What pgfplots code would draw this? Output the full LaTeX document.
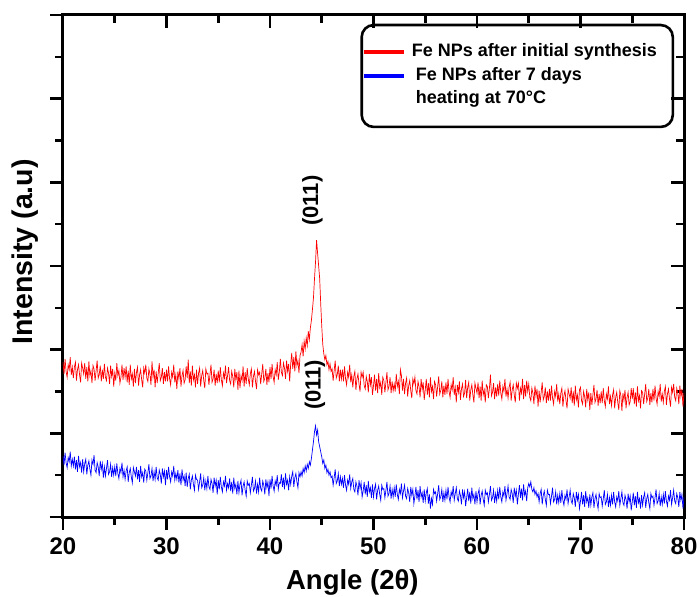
\documentclass[border=0pt]{standalone}
\usepackage{fontspec}
\setmainfont{Liberation Sans}
\usepackage{pgfplots}
\pgfplotsset{compat=1.18}

\begin{document}
\begin{tikzpicture}
% box with the top and right ticks pointing in
\begin{axis}[
    at={(0,0)}, anchor=south west,
    scale only axis, width=621pt, height=502pt,
    xmin=20, xmax=80, ymin=0, ymax=6,
    xtick={20,30,...,80}, ytick={0,1,...,6},
    minor x tick num=1, minor y tick num=1,
    xticklabels={}, yticklabels={},
    xtick pos=right, ytick pos=right,
    tick align=inside,
    major tick length=13pt, minor tick length=8pt,
    tick style={black, line width=2.6pt},
    axis line style={line width=3pt},
]
\end{axis}
\begin{axis}[
    at={(0,0)}, anchor=south west,
    scale only axis, width=621pt, height=502pt,
    xmin=20, xmax=80, ymin=0, ymax=6,
    xtick={20,30,...,80}, ytick={0,1,...,6},
    minor x tick num=1, minor y tick num=1,
    yticklabels={},
    xtick pos=left, ytick pos=left,
    tick align=outside,
    major tick length=13pt, minor tick length=8pt,
    tick style={black, line width=2.6pt},
    axis line style={line width=3pt},
    /pgf/number format/assume math mode=true,
    xticklabel style={font=\fontsize{24}{24}\selectfont\bfseries, yshift=-4pt},
    xlabel={Angle (2θ)},
    ylabel={Intensity (a.u)},
    xlabel style={font=\fontsize{27.5}{27.5}\selectfont\bfseries, at={(axis description cs:0.466,-0.131)}, anchor=center},
    ylabel style={font=\fontsize{28.5}{28.5}\selectfont\bfseries, at={(axis description cs:-0.061,0.528)}, anchor=center},
    legend style={at={(0.481,0.943)}, anchor=north west, draw=none, fill=none, inner sep=0pt,
        font=\fontsize{18}{18}\selectfont\bfseries,
        nodes={inner sep=0pt, text height=13pt, text depth=4pt},
        cells={anchor=west}, row sep=6.5pt, column sep=6pt},
    legend image code/.code={\draw[#1, line width=4pt] (0pt,0pt) -- (40pt,0pt);},
]
\draw[line width=2.6pt, rounded corners=12pt] (rel axis cs:0.481,0.980) rectangle (rel axis cs:0.982,0.777);

% Fe NPs after initial synthesis
\addplot[red, line width=0.7pt] coordinates {
(20.0,1.85)(20.1,1.71)(20.2,1.89)(20.3,1.74)(20.4,1.67)(20.5,1.82)(20.6,1.76)(20.7,1.91)(20.8,1.70)(20.9,1.79)
(21.0,1.66)(21.1,1.79)(21.2,1.85)(21.3,1.63)(21.4,1.76)(21.5,1.82)(21.6,1.70)(21.7,1.61)(21.8,1.84)(21.9,1.78)
(22.0,1.71)(22.1,1.84)(22.2,1.65)(22.3,1.79)(22.4,1.62)(22.5,1.86)(22.6,1.69)(22.7,1.75)(22.8,1.60)(22.9,1.81)
(23.0,1.77)(23.1,1.63)(23.2,1.75)(23.3,1.87)(23.4,1.66)(23.5,1.70)(23.6,1.81)(23.7,1.62)(23.8,1.76)(23.9,1.65)
(24.0,1.83)(24.1,1.67)(24.2,1.63)(24.3,1.78)(24.4,1.72)(24.5,1.59)(24.6,1.81)(24.7,1.68)(24.8,1.77)(24.9,1.56)
(25.0,1.72)(25.1,1.63)(25.2,1.84)(25.3,1.69)(25.4,1.75)(25.5,1.60)(25.6,1.67)(25.7,1.82)(25.8,1.64)(25.9,1.78)
(26.0,1.67)(26.1,1.80)(26.2,1.61)(26.3,1.75)(26.4,1.58)(26.5,1.82)(26.6,1.65)(26.7,1.71)(26.8,1.56)(26.9,1.77)
(27.0,1.60)(27.1,1.73)(27.2,1.79)(27.3,1.57)(27.4,1.70)(27.5,1.76)(27.6,1.64)(27.7,1.55)(27.8,1.78)(27.9,1.72)
(28.0,1.82)(28.1,1.66)(28.2,1.62)(28.3,1.77)(28.4,1.71)(28.5,1.58)(28.6,1.86)(28.7,1.67)(28.8,1.76)(28.9,1.55)
(29.0,1.74)(29.1,1.60)(29.2,1.72)(29.3,1.84)(29.4,1.63)(29.5,1.67)(29.6,1.78)(29.7,1.59)(29.8,1.73)(29.9,1.62)
(30.0,1.76)(30.1,1.62)(30.2,1.80)(30.3,1.65)(30.4,1.58)(30.5,1.73)(30.6,1.67)(30.7,1.82)(30.8,1.61)(30.9,1.70)
(31.0,1.53)(31.1,1.74)(31.2,1.65)(31.3,1.78)(31.4,1.56)(31.5,1.69)(31.6,1.75)(31.7,1.60)(31.8,1.64)(31.9,1.80)
(32.0,1.66)(32.1,1.88)(32.2,1.60)(32.3,1.74)(32.4,1.57)(32.5,1.81)(32.6,1.64)(32.7,1.70)(32.8,1.55)(32.9,1.76)
(33.0,1.59)(33.1,1.72)(33.2,1.78)(33.3,1.56)(33.4,1.69)(33.5,1.75)(33.6,1.63)(33.7,1.54)(33.8,1.77)(33.9,1.71)
(34.0,1.72)(34.1,1.58)(34.2,1.70)(34.3,1.82)(34.4,1.61)(34.5,1.65)(34.6,1.76)(34.7,1.57)(34.8,1.71)(34.9,1.60)
(35.0,1.75)(35.1,1.61)(35.2,1.79)(35.3,1.64)(35.4,1.57)(35.5,1.72)(35.6,1.66)(35.7,1.81)(35.8,1.60)(35.9,1.69)
(36.0,1.79)(36.1,1.63)(36.2,1.59)(36.3,1.74)(36.4,1.68)(36.5,1.55)(36.6,1.77)(36.7,1.64)(36.8,1.73)(36.9,1.52)
(37.0,1.75)(37.1,1.54)(37.2,1.69)(37.3,1.63)(37.4,1.80)(37.5,1.56)(37.6,1.73)(37.7,1.59)(37.8,1.78)(37.9,1.65)
(38.0,1.58)(38.1,1.71)(38.2,1.77)(38.3,1.55)(38.4,1.68)(38.5,1.74)(38.6,1.62)(38.7,1.53)(38.8,1.76)(38.9,1.70)
(39.0,1.73)(39.1,1.59)(39.2,1.71)(39.3,1.83)(39.4,1.62)(39.5,1.66)(39.6,1.77)(39.7,1.58)(39.8,1.72)(39.9,1.61)
(40.0,1.79)(40.1,1.65)(40.2,1.83)(40.3,1.68)(40.4,1.61)(40.5,1.76)(40.6,1.70)(40.7,1.85)(40.8,1.64)(40.9,1.73)
(41.0,1.89)(41.1,1.73)(41.2,1.69)(41.3,1.84)(41.4,1.78)(41.5,1.65)(41.6,1.87)(41.7,1.74)(41.8,1.83)(41.9,1.62)
(42.0,1.83)(42.1,1.96)(42.2,1.77)(42.3,1.91)(42.4,1.74)(42.5,1.98)(42.6,1.81)(42.7,1.87)(42.8,1.72)(42.9,1.93)
(43.0,1.97)(43.1,2.06)(43.2,1.92)(43.3,2.10)(43.4,2.01)(43.5,2.14)(43.6,2.05)(43.7,2.22)(43.8,2.12)(43.9,2.26)
(44.0,2.35)(44.1,2.48)(44.2,2.62)(44.3,2.85)(44.4,3.05)(44.5,3.31)(44.6,3.15)(44.7,3.00)(44.8,2.85)(44.9,2.55)
(45.0,2.28)(45.1,2.06)(45.2,1.95)(45.3,1.88)(45.4,1.93)(45.5,1.82)(45.6,1.86)(45.7,1.76)(45.8,1.83)(45.9,1.74)
(46.0,1.77)(46.1,1.63)(46.2,1.75)(46.3,1.87)(46.4,1.66)(46.5,1.70)(46.6,1.81)(46.7,1.62)(46.8,1.76)(46.9,1.65)
(47.0,1.76)(47.1,1.62)(47.2,1.80)(47.3,1.65)(47.4,1.58)(47.5,1.73)(47.6,1.67)(47.7,1.82)(47.8,1.61)(47.9,1.70)
(48.0,1.55)(48.1,1.68)(48.2,1.74)(48.3,1.52)(48.4,1.65)(48.5,1.71)(48.6,1.59)(48.7,1.50)(48.8,1.73)(48.9,1.67)
(49.0,1.73)(49.1,1.57)(49.2,1.53)(49.3,1.68)(49.4,1.62)(49.5,1.49)(49.6,1.71)(49.7,1.58)(49.8,1.67)(49.9,1.46)
(50.0,1.57)(50.1,1.70)(50.2,1.51)(50.3,1.65)(50.4,1.48)(50.5,1.72)(50.6,1.55)(50.7,1.61)(50.8,1.46)(50.9,1.67)
(51.0,1.63)(51.1,1.49)(51.2,1.61)(51.3,1.73)(51.4,1.52)(51.5,1.56)(51.6,1.67)(51.7,1.48)(51.8,1.62)(51.9,1.51)
(52.0,1.59)(52.1,1.50)(52.2,1.71)(52.3,1.56)(52.4,1.62)(52.5,1.47)(52.6,1.76)(52.7,1.69)(52.8,1.51)(52.9,1.65)
(53.0,1.47)(53.1,1.60)(53.2,1.66)(53.3,1.44)(53.4,1.57)(53.5,1.63)(53.6,1.51)(53.7,1.42)(53.8,1.65)(53.9,1.59)
(54.0,1.67)(54.1,1.51)(54.2,1.47)(54.3,1.62)(54.4,1.56)(54.5,1.43)(54.6,1.65)(54.7,1.52)(54.8,1.61)(54.9,1.40)
(55.0,1.52)(55.1,1.65)(55.2,1.46)(55.3,1.60)(55.4,1.43)(55.5,1.67)(55.6,1.50)(55.7,1.56)(55.8,1.41)(55.9,1.62)
(56.0,1.58)(56.1,1.44)(56.2,1.56)(56.3,1.68)(56.4,1.47)(56.5,1.51)(56.6,1.62)(56.7,1.43)(56.8,1.57)(56.9,1.46)
(57.0,1.61)(57.1,1.47)(57.2,1.65)(57.3,1.50)(57.4,1.43)(57.5,1.58)(57.6,1.52)(57.7,1.67)(57.8,1.46)(57.9,1.55)
(58.0,1.37)(58.1,1.58)(58.2,1.49)(58.3,1.62)(58.4,1.40)(58.5,1.53)(58.6,1.59)(58.7,1.44)(58.8,1.48)(58.9,1.64)
(59.0,1.42)(59.1,1.55)(59.2,1.61)(59.3,1.39)(59.4,1.52)(59.5,1.58)(59.6,1.46)(59.7,1.37)(59.8,1.60)(59.9,1.54)
(60.0,1.48)(60.1,1.61)(60.2,1.42)(60.3,1.56)(60.4,1.39)(60.5,1.63)(60.6,1.46)(60.7,1.52)(60.8,1.37)(60.9,1.58)
(61.0,1.56)(61.1,1.42)(61.2,1.54)(61.3,1.70)(61.4,1.45)(61.5,1.49)(61.6,1.60)(61.7,1.41)(61.8,1.55)(61.9,1.44)
(62.0,1.59)(62.1,1.45)(62.2,1.63)(62.3,1.48)(62.4,1.41)(62.5,1.56)(62.6,1.50)(62.7,1.65)(62.8,1.44)(62.9,1.53)
(63.0,1.42)(63.1,1.55)(63.2,1.61)(63.3,1.39)(63.4,1.52)(63.5,1.58)(63.6,1.46)(63.7,1.37)(63.8,1.60)(63.9,1.54)
(64.0,1.60)(64.1,1.39)(64.2,1.54)(64.3,1.48)(64.4,1.65)(64.5,1.41)(64.6,1.58)(64.7,1.44)(64.8,1.63)(64.9,1.50)
(65.0,1.59)(65.1,1.43)(65.2,1.39)(65.3,1.54)(65.4,1.48)(65.5,1.35)(65.6,1.57)(65.7,1.44)(65.8,1.53)(65.9,1.32)
(66.0,1.51)(66.1,1.37)(66.2,1.49)(66.3,1.61)(66.4,1.40)(66.5,1.44)(66.6,1.55)(66.7,1.36)(66.8,1.50)(66.9,1.39)
(67.0,1.53)(67.1,1.39)(67.2,1.57)(67.3,1.42)(67.4,1.35)(67.5,1.50)(67.6,1.44)(67.7,1.59)(67.8,1.38)(67.9,1.47)
(68.0,1.35)(68.1,1.48)(68.2,1.54)(68.3,1.32)(68.4,1.45)(68.5,1.51)(68.6,1.39)(68.7,1.30)(68.8,1.53)(68.9,1.47)
(69.0,1.42)(69.1,1.55)(69.2,1.36)(69.3,1.50)(69.4,1.33)(69.5,1.57)(69.6,1.40)(69.7,1.46)(69.8,1.31)(69.9,1.52)
(70.0,1.55)(70.1,1.39)(70.2,1.35)(70.3,1.50)(70.4,1.44)(70.5,1.31)(70.6,1.53)(70.7,1.40)(70.8,1.49)(70.9,1.28)
(71.0,1.48)(71.1,1.34)(71.2,1.46)(71.3,1.58)(71.4,1.37)(71.5,1.41)(71.6,1.52)(71.7,1.33)(71.8,1.47)(71.9,1.36)
(72.0,1.50)(72.1,1.36)(72.2,1.54)(72.3,1.39)(72.4,1.32)(72.5,1.47)(72.6,1.41)(72.7,1.56)(72.8,1.35)(72.9,1.44)
(73.0,1.33)(73.1,1.46)(73.2,1.52)(73.3,1.30)(73.4,1.43)(73.5,1.49)(73.6,1.37)(73.7,1.28)(73.8,1.51)(73.9,1.45)
(74.0,1.27)(74.1,1.48)(74.2,1.39)(74.3,1.52)(74.4,1.30)(74.5,1.43)(74.6,1.49)(74.7,1.34)(74.8,1.38)(74.9,1.54)
(75.0,1.41)(75.1,1.54)(75.2,1.35)(75.3,1.49)(75.4,1.32)(75.5,1.56)(75.6,1.39)(75.7,1.45)(75.8,1.30)(75.9,1.51)
(76.0,1.49)(76.1,1.35)(76.2,1.47)(76.3,1.59)(76.4,1.38)(76.5,1.42)(76.6,1.53)(76.7,1.34)(76.8,1.48)(76.9,1.37)
(77.0,1.53)(77.1,1.39)(77.2,1.57)(77.3,1.42)(77.4,1.35)(77.5,1.50)(77.6,1.44)(77.7,1.59)(77.8,1.38)(77.9,1.47)
(78.0,1.37)(78.1,1.50)(78.2,1.56)(78.3,1.34)(78.4,1.47)(78.5,1.53)(78.6,1.41)(78.7,1.32)(78.8,1.55)(78.9,1.49)
(79.0,1.59)(79.1,1.43)(79.2,1.39)(79.3,1.54)(79.4,1.48)(79.5,1.35)(79.6,1.57)(79.7,1.44)(79.8,1.53)(79.9,1.32)
(80.0,1.48)
};
\addlegendentry{Fe NPs after initial synthesis}

% Fe NPs after 7 days heating at 70 C
\addplot[blue, line width=0.7pt] coordinates {
(20.0,0.73)(20.1,0.62)(20.2,0.77)(20.3,0.65)(20.4,0.59)(20.5,0.71)(20.6,0.66)(20.7,0.78)(20.8,0.61)(20.9,0.69)
(21.0,0.61)(21.1,0.72)(21.2,0.57)(21.3,0.68)(21.4,0.54)(21.5,0.73)(21.6,0.60)(21.7,0.65)(21.8,0.53)(21.9,0.69)
(22.0,0.54)(22.1,0.64)(22.2,0.69)(22.3,0.51)(22.4,0.62)(22.5,0.67)(22.6,0.57)(22.7,0.50)(22.8,0.68)(22.9,0.63)
(23.0,0.74)(23.1,0.56)(23.2,0.53)(23.3,0.65)(23.4,0.60)(23.5,0.49)(23.6,0.67)(23.7,0.57)(23.8,0.64)(23.9,0.47)
(24.0,0.60)(24.1,0.49)(24.2,0.58)(24.3,0.68)(24.4,0.51)(24.5,0.54)(24.6,0.63)(24.7,0.48)(24.8,0.59)(24.9,0.50)
(25.0,0.60)(25.1,0.49)(25.2,0.64)(25.3,0.52)(25.4,0.46)(25.5,0.58)(25.6,0.53)(25.7,0.65)(25.8,0.48)(25.9,0.56)
(26.0,0.45)(26.1,0.55)(26.2,0.60)(26.3,0.42)(26.4,0.53)(26.5,0.58)(26.6,0.48)(26.7,0.41)(26.8,0.59)(26.9,0.54)
(27.0,0.49)(27.1,0.60)(27.2,0.45)(27.3,0.56)(27.4,0.42)(27.5,0.61)(27.6,0.48)(27.7,0.53)(27.8,0.41)(27.9,0.57)
(28.0,0.55)(28.1,0.44)(28.2,0.53)(28.3,0.63)(28.4,0.46)(28.5,0.49)(28.6,0.58)(28.7,0.43)(28.8,0.54)(28.9,0.45)
(29.0,0.60)(29.1,0.47)(29.2,0.44)(29.3,0.56)(29.4,0.51)(29.5,0.40)(29.6,0.58)(29.7,0.48)(29.8,0.55)(29.9,0.38)
(30.0,0.56)(30.1,0.45)(30.2,0.60)(30.3,0.48)(30.4,0.42)(30.5,0.54)(30.6,0.49)(30.7,0.61)(30.8,0.44)(30.9,0.52)
(31.0,0.45)(31.1,0.56)(31.2,0.41)(31.3,0.52)(31.4,0.38)(31.5,0.57)(31.6,0.44)(31.7,0.49)(31.8,0.37)(31.9,0.53)
(32.0,0.36)(32.1,0.46)(32.2,0.51)(32.3,0.33)(32.4,0.44)(32.5,0.49)(32.6,0.39)(32.7,0.32)(32.8,0.50)(32.9,0.45)
(33.0,0.44)(33.1,0.33)(33.2,0.42)(33.3,0.52)(33.4,0.35)(33.5,0.38)(33.6,0.47)(33.7,0.32)(33.8,0.43)(33.9,0.34)
(34.0,0.49)(34.1,0.36)(34.2,0.33)(34.3,0.45)(34.4,0.40)(34.5,0.29)(34.6,0.47)(34.7,0.37)(34.8,0.44)(34.9,0.27)
(35.0,0.44)(35.1,0.33)(35.2,0.48)(35.3,0.36)(35.4,0.30)(35.5,0.42)(35.6,0.37)(35.7,0.49)(35.8,0.32)(35.9,0.40)
(36.0,0.35)(36.1,0.46)(36.2,0.31)(36.3,0.42)(36.4,0.28)(36.5,0.47)(36.6,0.34)(36.7,0.39)(36.8,0.27)(36.9,0.43)
(37.0,0.29)(37.1,0.39)(37.2,0.44)(37.3,0.26)(37.4,0.37)(37.5,0.42)(37.6,0.32)(37.7,0.25)(37.8,0.43)(37.9,0.38)
(38.0,0.40)(38.1,0.29)(38.2,0.38)(38.3,0.48)(38.4,0.31)(38.5,0.34)(38.6,0.43)(38.7,0.28)(38.8,0.39)(38.9,0.30)
(39.0,0.47)(39.1,0.34)(39.2,0.31)(39.3,0.43)(39.4,0.38)(39.5,0.27)(39.6,0.45)(39.7,0.35)(39.8,0.42)(39.9,0.25)
(40.0,0.45)(40.1,0.34)(40.2,0.49)(40.3,0.37)(40.4,0.31)(40.5,0.43)(40.6,0.38)(40.7,0.50)(40.8,0.33)(40.9,0.41)
(41.0,0.40)(41.1,0.51)(41.2,0.36)(41.3,0.47)(41.4,0.33)(41.5,0.52)(41.6,0.39)(41.7,0.44)(41.8,0.32)(41.9,0.48)
(42.0,0.39)(42.1,0.49)(42.2,0.54)(42.3,0.36)(42.4,0.47)(42.5,0.52)(42.6,0.42)(42.7,0.35)(42.8,0.53)(42.9,0.48)
(43.0,0.54)(43.1,0.49)(43.2,0.58)(43.3,0.53)(43.4,0.61)(43.5,0.55)(43.6,0.63)(43.7,0.58)(43.8,0.66)(43.9,0.62)
(44.0,0.70)(44.1,0.80)(44.2,0.90)(44.3,1.02)(44.4,1.09)(44.5,0.98)(44.6,1.04)(44.7,0.90)(44.8,0.84)(44.9,0.78)
(45.0,0.72)(45.1,0.64)(45.2,0.68)(45.3,0.58)(45.4,0.62)(45.5,0.53)(45.6,0.57)(45.7,0.50)(45.8,0.54)(45.9,0.47)
(46.0,0.49)(46.1,0.38)(46.2,0.47)(46.3,0.57)(46.4,0.40)(46.5,0.43)(46.6,0.52)(46.7,0.37)(46.8,0.48)(46.9,0.39)
(47.0,0.46)(47.1,0.35)(47.2,0.50)(47.3,0.38)(47.4,0.32)(47.5,0.44)(47.6,0.39)(47.7,0.51)(47.8,0.34)(47.9,0.42)
(48.0,0.46)(48.1,0.33)(48.2,0.30)(48.3,0.42)(48.4,0.37)(48.5,0.26)(48.6,0.44)(48.7,0.34)(48.8,0.41)(48.9,0.24)
(49.0,0.31)(49.1,0.42)(49.2,0.27)(49.3,0.38)(49.4,0.24)(49.5,0.43)(49.6,0.30)(49.7,0.35)(49.8,0.23)(49.9,0.39)
(50.0,0.24)(50.1,0.34)(50.2,0.39)(50.3,0.21)(50.4,0.32)(50.5,0.37)(50.6,0.27)(50.7,0.20)(50.8,0.38)(50.9,0.33)
(51.0,0.34)(51.1,0.23)(51.2,0.32)(51.3,0.42)(51.4,0.25)(51.5,0.28)(51.6,0.37)(51.7,0.22)(51.8,0.33)(51.9,0.24)
(52.0,0.35)(52.1,0.24)(52.2,0.39)(52.3,0.27)(52.4,0.21)(52.5,0.33)(52.6,0.28)(52.7,0.40)(52.8,0.23)(52.9,0.31)
(53.0,0.38)(53.1,0.25)(53.2,0.22)(53.3,0.34)(53.4,0.29)(53.5,0.18)(53.6,0.36)(53.7,0.26)(53.8,0.33)(53.9,0.16)
(54.0,0.25)(54.1,0.36)(54.2,0.21)(54.3,0.32)(54.4,0.18)(54.5,0.37)(54.6,0.24)(54.7,0.29)(54.8,0.17)(54.9,0.33)
(55.0,0.19)(55.1,0.29)(55.2,0.34)(55.3,0.16)(55.4,0.27)(55.5,0.10)(55.6,0.22)(55.7,0.15)(55.8,0.33)(55.9,0.28)
(56.0,0.30)(56.1,0.19)(56.2,0.28)(56.3,0.38)(56.4,0.21)(56.5,0.24)(56.6,0.33)(56.7,0.18)(56.8,0.29)(56.9,0.20)
(57.0,0.32)(57.1,0.21)(57.2,0.36)(57.3,0.24)(57.4,0.18)(57.5,0.30)(57.6,0.25)(57.7,0.37)(57.8,0.20)(57.9,0.28)
(58.0,0.35)(58.1,0.22)(58.2,0.19)(58.3,0.31)(58.4,0.26)(58.5,0.15)(58.6,0.33)(58.7,0.23)(58.8,0.30)(58.9,0.13)
(59.0,0.23)(59.1,0.34)(59.2,0.19)(59.3,0.30)(59.4,0.16)(59.5,0.35)(59.6,0.22)(59.7,0.27)(59.8,0.15)(59.9,0.31)
(60.0,0.18)(60.1,0.28)(60.2,0.33)(60.3,0.15)(60.4,0.26)(60.5,0.31)(60.6,0.21)(60.7,0.14)(60.8,0.32)(60.9,0.27)
(61.0,0.29)(61.1,0.18)(61.2,0.27)(61.3,0.37)(61.4,0.20)(61.5,0.23)(61.6,0.32)(61.7,0.17)(61.8,0.28)(61.9,0.19)
(62.0,0.32)(62.1,0.21)(62.2,0.36)(62.3,0.24)(62.4,0.18)(62.5,0.30)(62.6,0.25)(62.7,0.37)(62.8,0.20)(62.9,0.28)
(63.0,0.37)(63.1,0.24)(63.2,0.21)(63.3,0.33)(63.4,0.28)(63.5,0.17)(63.6,0.35)(63.7,0.25)(63.8,0.32)(63.9,0.15)
(64.0,0.27)(64.1,0.38)(64.2,0.23)(64.3,0.34)(64.4,0.20)(64.5,0.39)(64.6,0.26)(64.7,0.31)(64.8,0.19)(64.9,0.35)
(65.0,0.40)(65.1,0.36)(65.2,0.42)(65.3,0.33)(65.4,0.30)(65.5,0.35)(65.6,0.27)(65.7,0.31)(65.8,0.24)(65.9,0.28)
(66.0,0.18)(66.1,0.28)(66.2,0.33)(66.3,0.15)(66.4,0.26)(66.5,0.31)(66.6,0.21)(66.7,0.14)(66.8,0.32)(66.9,0.27)
(67.0,0.27)(67.1,0.16)(67.2,0.25)(67.3,0.35)(67.4,0.18)(67.5,0.21)(67.6,0.30)(67.7,0.15)(67.8,0.26)(67.9,0.17)
(68.0,0.28)(68.1,0.17)(68.2,0.32)(68.3,0.20)(68.4,0.14)(68.5,0.26)(68.6,0.21)(68.7,0.33)(68.8,0.16)(68.9,0.24)
(69.0,0.32)(69.1,0.19)(69.2,0.16)(69.3,0.28)(69.4,0.23)(69.5,0.12)(69.6,0.30)(69.7,0.20)(69.8,0.27)(69.9,0.10)
(70.0,0.19)(70.1,0.30)(70.2,0.15)(70.3,0.26)(70.4,0.12)(70.5,0.31)(70.6,0.18)(70.7,0.23)(70.8,0.11)(70.9,0.27)
(71.0,0.14)(71.1,0.24)(71.2,0.29)(71.3,0.11)(71.4,0.22)(71.5,0.27)(71.6,0.17)(71.7,0.10)(71.8,0.28)(71.9,0.23)
(72.0,0.24)(72.1,0.13)(72.2,0.22)(72.3,0.32)(72.4,0.15)(72.5,0.18)(72.6,0.27)(72.7,0.12)(72.8,0.23)(72.9,0.14)
(73.0,0.26)(73.1,0.15)(73.2,0.30)(73.3,0.18)(73.4,0.12)(73.5,0.24)(73.6,0.19)(73.7,0.31)(73.8,0.14)(73.9,0.22)
(74.0,0.30)(74.1,0.17)(74.2,0.14)(74.3,0.26)(74.4,0.21)(74.5,0.10)(74.6,0.28)(74.7,0.18)(74.8,0.25)(74.9,0.08)
(75.0,0.18)(75.1,0.29)(75.2,0.14)(75.3,0.25)(75.4,0.11)(75.5,0.30)(75.6,0.17)(75.7,0.22)(75.8,0.10)(75.9,0.26)
(76.0,0.14)(76.1,0.24)(76.2,0.29)(76.3,0.11)(76.4,0.22)(76.5,0.27)(76.6,0.17)(76.7,0.10)(76.8,0.28)(76.9,0.23)
(77.0,0.25)(77.1,0.14)(77.2,0.23)(77.3,0.33)(77.4,0.16)(77.5,0.19)(77.6,0.28)(77.7,0.13)(77.8,0.24)(77.9,0.15)
(78.0,0.27)(78.1,0.16)(78.2,0.31)(78.3,0.19)(78.4,0.13)(78.5,0.25)(78.6,0.20)(78.7,0.32)(78.8,0.15)(78.9,0.23)
(79.0,0.32)(79.1,0.19)(79.2,0.16)(79.3,0.28)(79.4,0.23)(79.5,0.12)(79.6,0.30)(79.7,0.20)(79.8,0.27)(79.9,0.10)
(80.0,0.24)
};
\addlegendentry{\hspace{4pt}Fe NPs after 7 days}
\addlegendimage{empty legend}
\addlegendentry{\hspace{4pt}heating at 70°C}

\node[rotate=90, font=\fontsize{22}{22}\selectfont\bfseries] at (axis cs:44.1,3.78) {(011)};
\node[rotate=90, font=\fontsize{22}{22}\selectfont\bfseries] at (axis cs:44.35,1.58) {(011)};
\end{axis}
\pgfresetboundingbox
\path (-63pt,-79pt) rectangle (637pt,517pt);
\end{tikzpicture}
\end{document}
